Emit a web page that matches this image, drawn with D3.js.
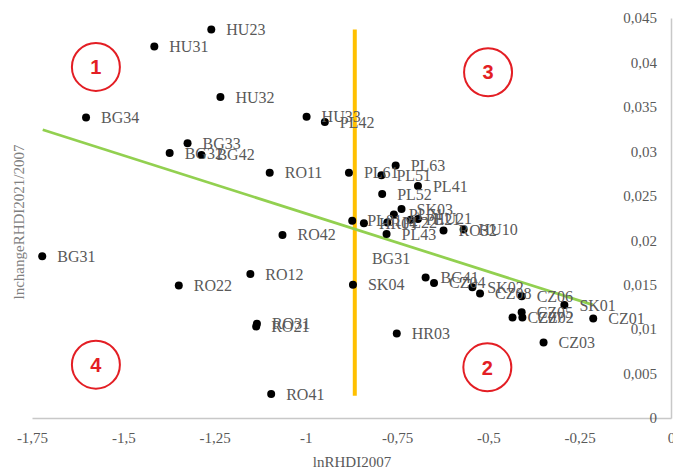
<!DOCTYPE html>
<html>
<head>
<meta charset="utf-8">
<script src="https://cdn.jsdelivr.net/npm/d3@7"></script>
<style>
  html, body { margin: 0; padding: 0; background: #fff; }
  svg { display: block; }
</style>
</head>
<body>
<svg id="chart" width="673" height="474"></svg>
<script>
// ---- data ----
const regions = ["HU23","HU31","HU32","HU33","PL42","BG34","BG33","BG32","BG42","RO11",
  "PL61","PL63","PL51","PL41","PL52","SK03","PL71","PL81","HR04","PL22",
  "PL21","HU21","PL43","RO32","HU10","BG31","RO42","RO12","RO22","RO31",
  "RO21","RO41","SK04","BG41","CZ04","SK02","CZ08","CZ06","SK01","CZ05",
  "CZ07","CZ02","CZ01","CZ03","HR03"];
const lnRHDI2007 = [-1.259,-1.415,-1.234,-0.998,-0.948,-1.602,-1.324,-1.373,-1.286,-1.099,
  -0.882,-0.754,-0.793,-0.693,-0.791,-0.738,-0.759,-0.873,-0.841,-0.777,
  -0.713,-0.693,-0.779,-0.623,-0.568,-1.722,-1.064,-1.152,-1.348,-1.134,
  -1.136,-1.095,-0.871,-0.672,-0.649,-0.544,-0.523,-0.409,-0.292,-0.409,
  -0.434,-0.407,-0.213,-0.349,-0.751];
const lnChange = [0.0437,0.0418,0.0361,0.0339,0.0333,0.0338,0.0309,0.0298,0.0296,0.0276,
  0.0276,0.0284,0.0273,0.0261,0.0252,0.0235,0.0229,0.0222,0.0219,0.0220,
  0.0223,0.0224,0.0207,0.0211,0.0212,0.0182,0.0206,0.0162,0.0149,0.0106,
  0.0103,0.0027,0.0150,0.0158,0.0152,0.0147,0.0140,0.0137,0.0127,0.0119,
  0.0113,0.0113,0.0112,0.0085,0.0095];
const floatingLabels = [{ text: "BG31", x: -0.819, y: 0.0180 }];
const trendX = [-1.7206, -0.214];
const trendY = [0.03243, 0.01273];
const meanX = -0.866;
const meanYRange = [0.0025, 0.0437];
const quadrantNames = ["1", "2", "3", "4"];
const quadrantX = [-1.575, -0.503, -0.501, -1.575];
const quadrantY = [0.0395, 0.0057, 0.0389, 0.0060];
const xTicks = [-1.75, -1.5, -1.25, -1, -0.75, -0.5, -0.25, 0];
const yTicks = [0, 0.005, 0.01, 0.015, 0.02, 0.025, 0.03, 0.035, 0.04, 0.045];
const xTitle = "lnRHDI2007";
const yTitle = "lnchangeRHDI2021/2007";

// ---- drawing ----
const svg = d3.select("#chart");
const font = "'Liberation Serif', 'Times New Roman', serif";
const fmt = v => String(v).replace(".", ",");

const x = d3.scaleLinear().domain([-1.75, 0]).range([32, 671]);
const y = d3.scaleLinear().domain([0, 0.045]).range([418, 18]);

// axes
const xAxis = svg.append("g").attr("transform", `translate(0,${y(0)})`)
  .call(d3.axisBottom(x).tickValues(xTicks).tickSize(0).tickFormat(fmt).tickPadding(14));
xAxis.select(".domain").attr("stroke", "#c8c8c8").attr("stroke-width", 1.5);
xAxis.selectAll("text").attr("font-family", font).attr("font-size", 15).attr("fill", "#595959");

const yAxis = svg.append("g").attr("transform", `translate(${x(0)},0)`)
  .call(d3.axisLeft(y).tickValues(yTicks).tickSize(0).tickFormat(fmt).tickPadding(14));
yAxis.select(".domain").attr("stroke", "#c8c8c8").attr("stroke-width", 1.5);
yAxis.selectAll("text").attr("font-family", font).attr("font-size", 15).attr("fill", "#595959");

// titles
svg.append("text").attr("x", 352).attr("y", 467).attr("text-anchor", "middle")
  .attr("font-family", font).attr("font-size", 15).attr("fill", "#595959").text(xTitle);
svg.append("text").attr("transform", `translate(24,222) rotate(-90)`).attr("text-anchor", "middle")
  .attr("font-family", font).attr("font-size", 15).attr("fill", "#7f7f7f").text(yTitle);

// mean line (orange)
svg.append("line")
  .attr("x1", x(meanX)).attr("x2", x(meanX))
  .attr("y1", y(meanYRange[0])).attr("y2", y(meanYRange[1]))
  .attr("stroke", "#ffc000").attr("stroke-width", 4);

// trend line (green)
svg.append("line")
  .attr("x1", x(trendX[0])).attr("y1", y(trendY[0]))
  .attr("x2", x(trendX[1])).attr("y2", y(trendY[1]))
  .attr("stroke", "#92d050").attr("stroke-width", 2.75);

// quadrant markers
const q = svg.append("g").selectAll("g").data(quadrantNames).join("g")
  .attr("transform", (d, i) => `translate(${x(quadrantX[i])},${y(quadrantY[i])})`);
q.append("circle").attr("r", 24).attr("fill", "none").attr("stroke", "#e31e24").attr("stroke-width", 2);
q.append("text").attr("text-anchor", "middle").attr("dy", "0.36em")
  .attr("font-family", "'Liberation Sans', Arial, sans-serif").attr("font-size", 20).attr("font-weight", "bold")
  .attr("fill", "#e31e24").text(d => d);

// points
const pts = regions.map((r, i) => ({ name: r, x: lnRHDI2007[i], y: lnChange[i] }));
svg.append("g").selectAll("circle").data(pts).join("circle")
  .attr("cx", d => x(d.x)).attr("cy", d => y(d.y)).attr("r", 4).attr("fill", "#000");

// labels
const labelG = svg.append("g").attr("font-family", font).attr("font-size", 16).attr("fill", "#595959");
labelG.selectAll("text.lab").data(pts).join("text").attr("class", "lab")
  .attr("x", d => x(d.x) + 15).attr("y", d => y(d.y)).attr("dy", "0.35em").text(d => d.name);
labelG.selectAll("text.fl").data(floatingLabels).join("text").attr("class", "fl")
  .attr("x", d => x(d.x)).attr("y", d => y(d.y)).attr("dy", "0.35em").text(d => d.text);
</script>
</body>
</html>
